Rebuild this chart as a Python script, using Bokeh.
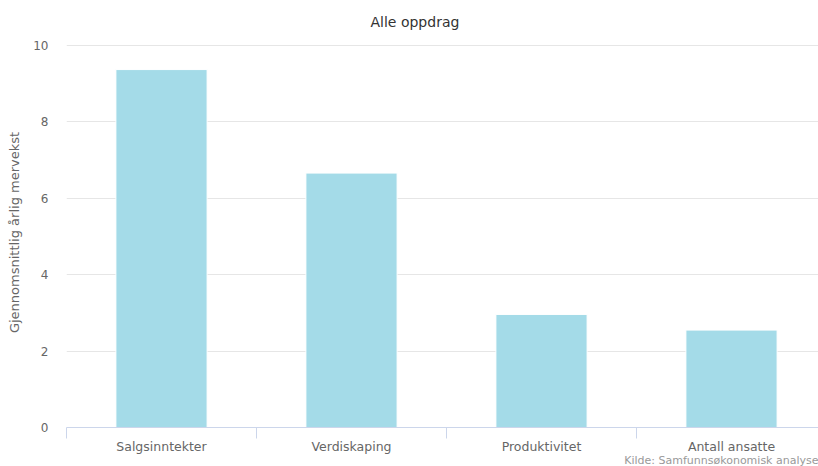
from bokeh.plotting import figure
from bokeh.models import Range1d, FixedTicker, LinearAxis, Grid, Title
from bokeh.embed import file_html
from bokeh.resources import INLINE

# ---- data ----
categories = ["Salgsinntekter", "Verdiskaping", "Produktivitet", "Antall ansatte"]
values = [9.37, 6.66, 2.96, 2.55]
y_ticks = [0, 2, 4, 6, 8, 10]
title_text = "Alle oppdrag"
y_title = "Gjennomsnittlig årlig mervekst"
credits_text = "Kilde: Samfunnsøkonomisk analyse"

FONT = "DejaVu Sans"
BAR_COLOR = "#a4dbe8"

n = len(categories)
x_centers = [i + 0.5 for i in range(n)]
x_bounds = [float(i) for i in range(n + 1)]

# layout: frame from x=66 to 818 (chart cropped at right), category width 190px
x_end = 752 / 190
# frame top at 37 px, so that the top gridline (10) lies at 45 px and the bottom at 427 px
frame_top, y10_px, y0_px = 37, 45, 427
y_end = y_ticks[-1] * (y0_px - frame_top) / (y0_px - y10_px)

p = figure(width=818, height=466, output_backend="svg", toolbar_location=None,
           x_range=Range1d(0, x_end), y_range=Range1d(0, y_end),
           x_axis_type=None, y_axis_type=None,
           min_border_left=66, min_border_right=0, min_border_top=frame_top,
           min_border_bottom=466 - y0_px)
p.outline_line_color = None
p.background_fill_color = "white"
p.border_fill_color = "white"

p.vbar(x=x_centers, top=values, width=0.48, bottom=0,
       fill_color=BAR_COLOR, line_color="white", line_width=1)

# y axis
yaxis = LinearAxis(ticker=FixedTicker(ticks=y_ticks, minor_ticks=[]))
yaxis.axis_line_color = None
yaxis.major_tick_line_color = None
yaxis.minor_tick_line_color = None
yaxis.major_tick_out = 0
yaxis.major_tick_in = 0
yaxis.minor_tick_out = 0
yaxis.minor_tick_in = 0
yaxis.major_label_standoff = 18
yaxis.major_label_text_font = FONT
yaxis.major_label_text_font_size = "12px"
yaxis.major_label_text_color = "#666666"
yaxis.axis_label = y_title
yaxis.axis_label_text_font = FONT
yaxis.axis_label_text_font_size = "13px"
yaxis.axis_label_text_font_style = "normal"
yaxis.axis_label_text_color = "#666666"
yaxis.axis_label_standoff = 8
p.add_layout(yaxis, "left")

# x axis: labels at category centers, tick marks at category boundaries
xaxis = LinearAxis(ticker=FixedTicker(ticks=x_centers, minor_ticks=x_bounds))
xaxis.major_label_overrides = {c: name for c, name in zip(x_centers, categories)}
xaxis.axis_line_color = "#ccd6eb"
xaxis.axis_line_width = 1
xaxis.major_tick_line_color = None
xaxis.major_tick_out = 0
xaxis.major_tick_in = 0
xaxis.minor_tick_line_color = "#ccd6eb"
xaxis.minor_tick_out = 11
xaxis.minor_tick_in = 0
xaxis.major_label_standoff = 0
xaxis.major_label_text_font = FONT
xaxis.major_label_text_font_size = "12.5px"
xaxis.major_label_text_color = "#666666"
p.add_layout(xaxis, "below")

p.add_layout(Grid(dimension=1, ticker=yaxis.ticker, grid_line_color="#e6e6e6", grid_line_width=1))

# title
p.add_layout(Title(text=title_text, align="left", offset=304, standoff=16,
                   text_font=FONT, text_font_size="14px", text_font_style="normal",
                   text_color="#333333"), "above")

# credits, right-aligned at the bottom
credits = Title(text=credits_text, align="right", offset=0, vertical_align="top",
                text_font=FONT, text_font_size="11px", text_font_style="normal",
                text_color="#999999")
try:
    credits.standoff = -6
except Exception:
    credits.standoff = 0
p.add_layout(credits, "below")

open("out.html", "w").write(file_html(p, INLINE))
